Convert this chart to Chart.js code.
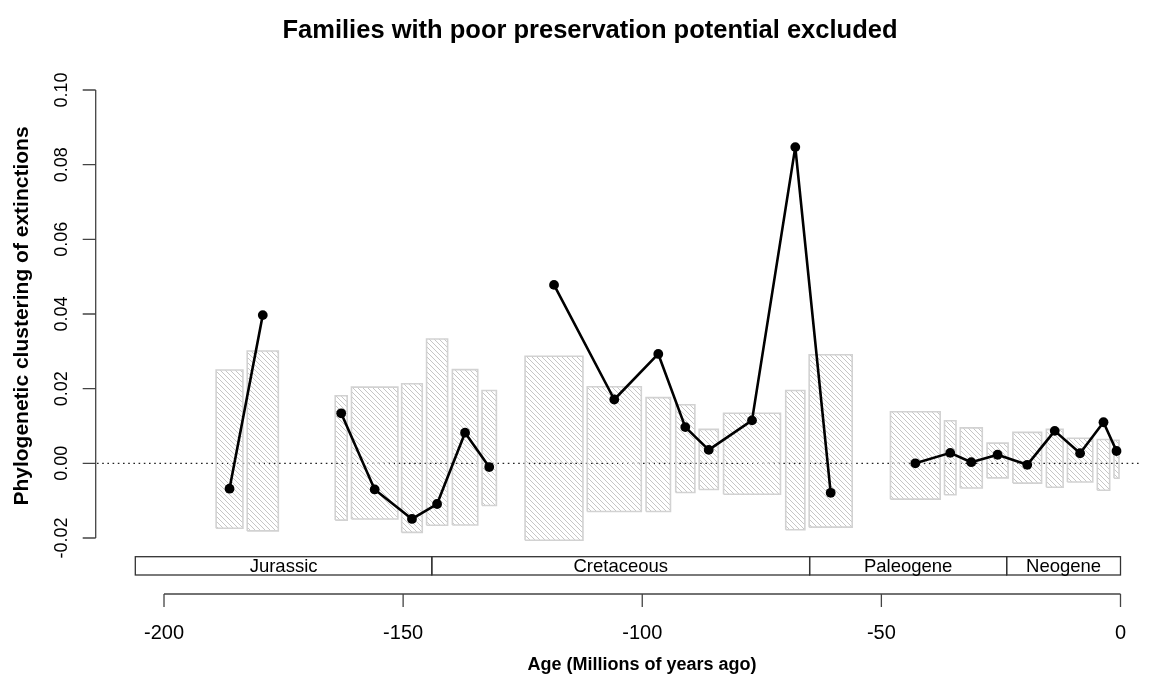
<!DOCTYPE html>
<html>
<head>
<meta charset="utf-8">
<script src="https://cdn.jsdelivr.net/npm/chart.js@4.4.1/dist/chart.umd.min.js"></script>
<style>
  html, body { margin: 0; padding: 0; background: #fff; }
  #wrap { width: 1154px; height: 683px; }
</style>
</head>
<body>
<div id="wrap"><canvas id="chart" width="1154" height="683"></canvas></div>
<script>
// Stage intervals in Ma (negative = before present)
const stageStart = [-189.1, -182.6, -164.2, -160.8, -150.3, -145.1, -139.7, -133.5, -124.5, -111.5, -99.2, -93.0, -88.1, -83.0, -70.0, -65.1, -48.1, -36.8, -33.5, -27.9, -22.5, -15.5, -11.1, -4.85, -1.36];
const stageEnd   = [-183.5, -176.1, -161.7, -151.1, -146.0, -140.7, -134.4, -130.5, -112.4, -100.2, -94.1, -89.0, -84.1, -71.1, -66.0, -56.1, -37.7, -34.4, -28.9, -23.5, -16.5, -12.0, -5.8, -2.26, -0.31];

// Null-model range of clustering for each stage
const nullLow  = [-0.0174, -0.0181, -0.0152, -0.0149, -0.0185, -0.0166, -0.0165, -0.0113, -0.0206, -0.0129, -0.0129, -0.0078, -0.0070, -0.0083, -0.0178, -0.0171, -0.0096, -0.0084, -0.0066, -0.0039, -0.0053, -0.0064, -0.0050, -0.0072, -0.0040];
const nullHigh = [0.0250, 0.0301, 0.0181, 0.0204, 0.0213, 0.0333, 0.0251, 0.0195, 0.0287, 0.0205, 0.0176, 0.0157, 0.0091, 0.0134, 0.0195, 0.0291, 0.0138, 0.0114, 0.0095, 0.0054, 0.0083, 0.0091, 0.0067, 0.0064, 0.0062];

// Observed clustering per stage; the line is broken between runs
const clustering = [-0.0068, 0.0397, 0.0134, -0.0070, -0.0149, -0.0109, 0.0082, -0.0010, 0.0478, 0.0171, 0.0293, 0.0097, 0.0036, 0.0115, 0.0847, -0.0079, 0.0000, 0.0028, 0.0003, 0.0023, -0.0004, 0.0087, 0.0027, 0.0110, 0.0033];
const runId = [1, 1, 2, 2, 2, 2, 2, 2, 3, 3, 3, 3, 3, 3, 3, 3, 4, 4, 4, 4, 4, 4, 4, 4, 4];

// Geological time scale
const periodNames = ['Jurassic', 'Cretaceous', 'Paleogene', 'Neogene'];
const periodBounds = [-206, -144, -65, -23.8, 0];

const xTicks = [-200, -150, -100, -50, 0];
const yTicks = [-0.02, 0.00, 0.02, 0.04, 0.06, 0.08, 0.10];

const FONT = "'Liberation Sans', Arial, Helvetica, sans-serif";
const canvas = document.getElementById('chart');
const ctx = canvas.getContext('2d');

function hatchPattern() {
    const n = 5;
    const c = document.createElement('canvas');
    c.width = n; c.height = n;
    const g = c.getContext('2d');
    g.strokeStyle = '#c6c6c6';
    g.lineWidth = 1;
    g.beginPath();
    g.moveTo(-1, -1); g.lineTo(n + 1, n + 1);
    g.moveTo(-1, n - 1); g.lineTo(1, n + 1);
    g.moveTo(n - 1, -1); g.lineTo(n + 1, 1);
    g.stroke();
    return ctx.createPattern(c, 'repeat');
}
const hatch = hatchPattern();

const datasets = [];

// one closed rectangle per stage, hatched
stageStart.forEach((s, i) => {
    const e = stageEnd[i], lo = nullLow[i], hi = nullHigh[i];
    datasets.push({
        data: [{ x: s, y: lo }, { x: s, y: hi }, { x: e, y: hi }, { x: e, y: lo }, { x: s, y: lo }],
        fill: 'shape',
        backgroundColor: hatch,
        borderColor: '#d2d2d2',
        borderWidth: 1.6,
        pointRadius: 0,
        order: 2
    });
});

// observed values, joined within each run
const mids = stageStart.map((s, i) => (s + stageEnd[i]) / 2);
[...new Set(runId)].forEach(r => {
    const pts = [];
    clustering.forEach((v, i) => { if (runId[i] === r) pts.push({ x: mids[i], y: v }); });
    datasets.push({
        data: pts,
        fill: false,
        borderColor: '#000',
        borderWidth: 2.6,
        borderJoinStyle: 'round',
        borderCapStyle: 'round',
        pointRadius: 4.9,
        pointBackgroundColor: '#000',
        pointBorderColor: '#000',
        pointBorderWidth: 0,
        order: 1
    });
});

// base-graphics style axes, labels and the period strip
const rAxes = {
    id: 'rAxes',
    beforeDatasetsDraw(chart) {
        const { ctx } = chart;
        const ys = chart.scales.y;
        const y0 = ys.getPixelForValue(0);
        ctx.save();
        ctx.strokeStyle = '#222';
        ctx.lineWidth = 1.2;
        ctx.setLineDash([1.6, 3.6]);
        ctx.beginPath();
        ctx.moveTo(97, y0);
        ctx.lineTo(1140, y0);
        ctx.stroke();
        ctx.restore();
    },
    afterDraw(chart) {
        const { ctx } = chart;
        const xs = chart.scales.x, ys = chart.scales.y;
        ctx.save();
        ctx.strokeStyle = '#444';
        ctx.fillStyle = '#000';
        ctx.lineWidth = 1.3;

        // y axis
        const axX = 95.7;
        const yTop = ys.getPixelForValue(yTicks[yTicks.length - 1]);
        const yBot = ys.getPixelForValue(yTicks[0]);
        ctx.beginPath();
        ctx.moveTo(axX, yTop); ctx.lineTo(axX, yBot);
        yTicks.forEach(t => {
            const p = ys.getPixelForValue(t);
            ctx.moveTo(axX, p); ctx.lineTo(axX - 13, p);
        });
        ctx.stroke();
        ctx.font = '18px ' + FONT;
        ctx.textAlign = 'center';
        ctx.textBaseline = 'alphabetic';
        yTicks.forEach(t => {
            const p = ys.getPixelForValue(t);
            ctx.save();
            ctx.translate(67, p);
            ctx.rotate(-Math.PI / 2);
            ctx.fillText(t.toFixed(2), 0, 0);
            ctx.restore();
        });

        // x axis
        const axY = 594;
        ctx.beginPath();
        ctx.moveTo(xs.getPixelForValue(xTicks[0]), axY);
        ctx.lineTo(xs.getPixelForValue(xTicks[xTicks.length - 1]), axY);
        xTicks.forEach(t => {
            const p = xs.getPixelForValue(t);
            ctx.moveTo(p, axY); ctx.lineTo(p, axY + 13);
        });
        ctx.stroke();
        ctx.font = '20px ' + FONT;
        ctx.textBaseline = 'middle';
        xTicks.forEach(t => {
            ctx.fillText(String(t), xs.getPixelForValue(t), 633);
        });

        // period strip
        const sTop = 556.7, sBot = 575;
        ctx.strokeStyle = '#333';
        ctx.lineWidth = 1.3;
        ctx.font = '18.5px ' + FONT;
        periodNames.forEach((name, i) => {
            const a = xs.getPixelForValue(periodBounds[i]);
            const b = xs.getPixelForValue(periodBounds[i + 1]);
            ctx.strokeRect(a, sTop, b - a, sBot - sTop);
            ctx.fillText(name, (a + b) / 2, (sTop + sBot) / 2 + 1);
        });

        // titles
        ctx.font = 'bold 18px ' + FONT;
        ctx.fillText('Age (Millions of years ago)', 642, 665);
        ctx.save();
        ctx.font = 'bold 21px ' + FONT;
        ctx.translate(22, 316);
        ctx.rotate(-Math.PI / 2);
        ctx.fillText('Phylogenetic clustering of extinctions', 0, 0);
        ctx.restore();
        ctx.font = 'bold 25.5px ' + FONT;
        ctx.fillText('Families with poor preservation potential excluded', 590, 31);
        ctx.restore();
    }
};

// 4.7825 px per Ma, 3733 px per unit of clustering
new Chart(canvas, {
    type: 'line',
    data: { datasets },
    options: {
        responsive: false,
        animation: false,
        devicePixelRatio: 1,
        layout: { padding: { left: 116.18, right: 9.59, top: 71.33, bottom: 107.67 } },
        elements: { line: { tension: 0 } },
        scales: {
            x: { type: 'linear', min: -210, max: 5, display: false },
            y: { type: 'linear', min: -0.03, max: 0.105, display: false }
        },
        plugins: {
            legend: { display: false },
            tooltip: { enabled: false },
            title: { display: false }
        }
    },
    plugins: [rAxes]
});
</script>
</body>
</html>
